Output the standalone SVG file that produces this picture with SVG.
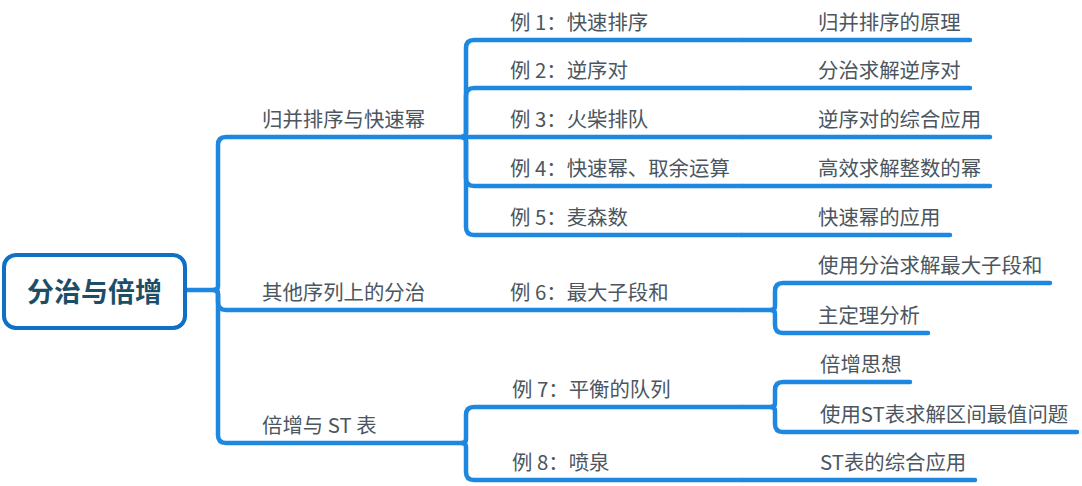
<svg xmlns="http://www.w3.org/2000/svg" width="1082" height="486" viewBox="0 0 1082 486">
<style>
.t{font-family:"Noto Sans CJK SC","Noto Sans",sans-serif;font-size:20.4px;fill:#4b5660}
.root{font-family:"Noto Sans CJK SC","Noto Sans",sans-serif;font-size:27px;font-weight:bold;fill:#1d4e68}
.c{fill:none;stroke:#1e88e0;stroke-width:4.5;stroke-linecap:round;stroke-linejoin:round}
</style>
<rect width="1082" height="486" fill="#ffffff"/>
<g id="connectors">
<path class="c" d="M185,290 L214,290"/>
<path class="c" d="M214,290 Q218,290 218,286 L218,145 Q218,137 226,137 L462,137"/>
<path class="c" d="M214,290 Q218,290 218,294 L218,302 Q218,310 226,310 L742,310"/>
<path class="c" d="M214,290 Q218,290 218,294 L218,435 Q218,443 226,443 L462,443"/>
<path class="c" d="M462,137 Q466,137 466,133 L466,48 Q466,40 474,40 L742,40"/>
<path class="c" d="M462,137 Q466,137 466,133 L466,96 Q466,88 474,88 L742,88"/>
<path class="c" d="M462,137 L742,137"/>
<path class="c" d="M462,137 Q466,137 466,141 L466,178 Q466,186 474,186 L742,186"/>
<path class="c" d="M462,137 Q466,137 466,141 L466,227 Q466,235 474,235 L742,235"/>
<path class="c" d="M742,40 L970,40"/>
<path class="c" d="M742,88 L970,88"/>
<path class="c" d="M742,137 L990,137"/>
<path class="c" d="M742,186 L990,186"/>
<path class="c" d="M742,235 L950,235"/>
<path class="c" d="M742,310 L771,310 Q775,310 775,306 L775,291 Q775,283 783,283 L1050,283"/>
<path class="c" d="M771,310 Q775,310 775,314 L775,325 Q775,333 783,333 L928,333"/>
<path class="c" d="M462,443 Q466,443 466,439 L466,415 Q466,407 474,407 L742,407"/>
<path class="c" d="M462,443 Q466,443 466,447 L466,472 Q466,480 474,480 L742,480"/>
<path class="c" d="M742,407 L771,407 Q775,407 775,403 L775,390 Q775,382 783,382 L910,382"/>
<path class="c" d="M771,407 Q775,407 775,411 L775,424 Q775,432 783,432 L1077,432"/>
<path class="c" d="M742,480 L975,480"/>
</g>
<g id="root">
<rect x="4" y="255" width="181" height="73" rx="12" ry="12" fill="#ffffff" stroke="#1170c4" stroke-width="4"/>
<text class="root" x="94.5" y="302" text-anchor="middle">分治与倍增</text>
</g>
<g id="b1"><text class="t" x="262" y="127">归并排序与快速幂</text></g>
<g id="b2"><text class="t" x="262" y="300">其他序列上的分治</text></g>
<g id="b3"><text class="t" x="262" y="433">倍增与 ST 表</text></g>
<g id="e1"><text class="t" x="510" y="30">例 1：快速排序</text></g>
<g id="e2"><text class="t" x="510" y="78">例 2：逆序对</text></g>
<g id="e3"><text class="t" x="510" y="127">例 3：火柴排队</text></g>
<g id="e4"><text class="t" x="510" y="176">例 4：快速幂、取余运算</text></g>
<g id="e5"><text class="t" x="510" y="225">例 5：麦森数</text></g>
<g id="e6"><text class="t" x="510" y="300">例 6：最大子段和</text></g>
<g id="e7"><text class="t" x="512" y="397">例 7：平衡的队列</text></g>
<g id="e8"><text class="t" x="512" y="470">例 8：喷泉</text></g>
<g id="g1"><text class="t" x="818" y="30">归并排序的原理</text></g>
<g id="g2"><text class="t" x="818" y="78">分治求解逆序对</text></g>
<g id="g3"><text class="t" x="818" y="127">逆序对的综合应用</text></g>
<g id="g4"><text class="t" x="818" y="176">高效求解整数的幂</text></g>
<g id="g5"><text class="t" x="818" y="225">快速幂的应用</text></g>
<g id="g6"><text class="t" x="818" y="273">使用分治求解最大子段和</text></g>
<g id="g7"><text class="t" x="818" y="323">主定理分析</text></g>
<g id="g8"><text class="t" x="820" y="372">倍增思想</text></g>
<g id="g9"><text class="t" x="820" y="422">使用ST表求解区间最值问题</text></g>
<g id="g10"><text class="t" x="820" y="470">ST表的综合应用</text></g>
</svg>
